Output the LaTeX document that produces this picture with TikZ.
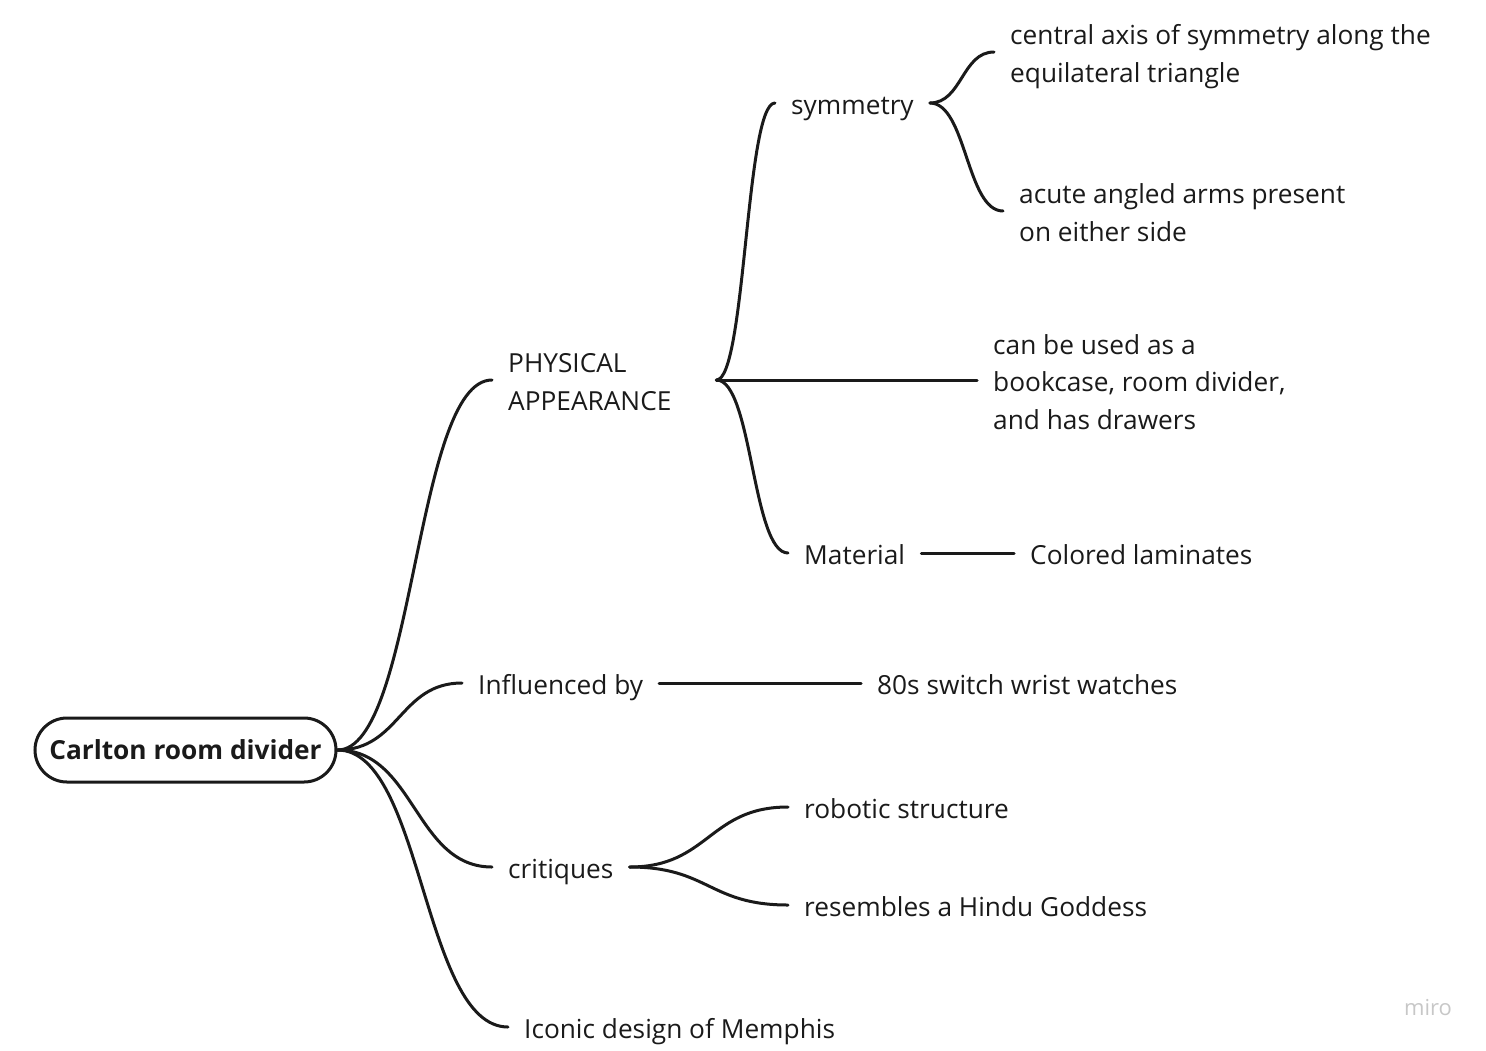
\documentclass[tikz,border=0pt]{standalone}
\usepackage{fontspec}
\setmainfont{Open Sans}
\usetikzlibrary{calc}
\definecolor{ink}{HTML}{1A1A1A}
% fixed line box: 30pt above, 7pt below the baseline
\newcommand{\topicstrut}{\rule[-7pt]{0pt}{37pt}}

\begin{document}
\begin{tikzpicture}[x=1pt, y=-1pt,
        topic/.style={anchor=west, inner xsep=16pt, inner ysep=0pt, align=flush left, text=ink,
            font=\fontsize{26.25}{37.5}\selectfont,
            execute at begin node=\topicstrut, execute at end node=\topicstrut},
        root/.style={draw=ink, line width=3pt, rounded corners=32pt, minimum width=301pt,
            minimum height=64pt, text=ink, font=\fontsize{26.25}{32}\selectfont\bfseries},
        link/.style={draw=ink, line width=3pt, line cap=round},
        branch/.style={to path={let \p1=(\tikztostart), \p2=(\tikztotarget) in
            .. controls ({0.5*\x1+0.5*\x2},\y1) and ({0.5*\x1+0.5*\x2},\y2) .. (\tikztotarget)}}]
        \useasboundingbox (0,0) rectangle (1486,1050);

        \node[root] at (185.5, 750)         (carlton)  {Carlton room divider};
        \node[topic, text width=192pt] at (492, 380) (physical) {PHYSICAL\\APPEARANCE};
        \node[topic] at (462, 683)          (influenced)  {Influenced by};
        \node[topic] at (492, 867)          (critiques)  {critiques};
        \node[topic] at (508, 1027)         (memphis)  {Iconic design of Memphis};
        \node[topic] at (775, 103)          (symmetry)  {symmetry};
        \node[topic, text width=300pt] at (977, 380) (uses)  {can be used as a\\bookcase, room divider,\\and has drawers};
        \node[topic] at (788, 553)          (material)  {Material};
        \node[topic, text width=440pt] at (994, 52) (axis)  {central axis of symmetry along the\\equilateral triangle};
        \node[topic, text width=340pt] at (1003, 211) (arms)  {acute angled arms present\\on either side};
        \node[topic] at (1014, 553)         (laminates)  {Colored laminates};
        \node[topic] at (861, 683)          (watches)  {80s switch wrist watches};
        \node[topic] at (788, 807)          (robotic)  {robotic structure};
        \node[topic] at (788, 905)          (goddess)  {resembles a Hindu Goddess};
        \node[text=black!22, font=\fontsize{22}{26}\selectfont] at (1428, 1008) (miro)  {miro};

        \draw[link] (carlton.east) to[branch] (physical.west);
        \draw[link] (carlton.east) to[branch] (influenced.west);
        \draw[link] (carlton.east) to[branch] (critiques.west);
        \draw[link] (carlton.east) to[branch] (memphis.west);
        \draw[link] (physical.east) to[branch] (symmetry.west);
        \draw[link] (physical.east) -- (physical.east -| uses.west);
        \draw[link] (physical.east) to[branch] (material.west);
        \draw[link] (symmetry.east) to[branch] (axis.west);
        \draw[link] (symmetry.east) to[branch] (arms.west);
        \draw[link] (material.east) -- (laminates.west);
        \draw[link] (influenced.east) -- (watches.west);
        \draw[link] (critiques.east) to[branch] (robotic.west);
        \draw[link] (critiques.east) to[branch] (goddess.west);
    \end{tikzpicture}
\end{document}
